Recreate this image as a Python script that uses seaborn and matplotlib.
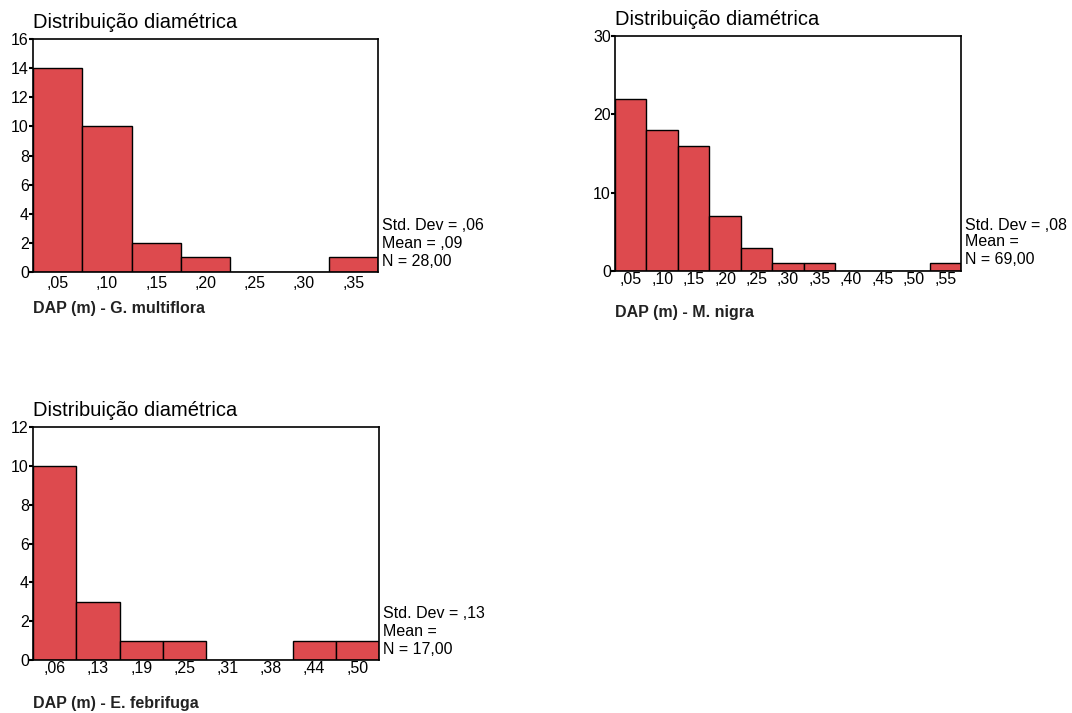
import numpy as np
import pandas as pd
import matplotlib
matplotlib.use("Agg")
import matplotlib.pyplot as plt
import seaborn as sns

# Dados (classes de DAP e frequências)
classes_g = [",05", ",10", ",15", ",20", ",25", ",30", ",35"]
freq_g = [14, 10, 2, 1, 0, 0, 1]
stats_g = ["Std. Dev = ,06", "Mean = ,09", "N = 28,00"]

classes_m = [",05", ",10", ",15", ",20", ",25", ",30", ",35", ",40", ",45", ",50", ",55"]
freq_m = [22, 18, 16, 7, 3, 1, 1, 0, 0, 0, 1]
stats_m = ["Std. Dev = ,08", "Mean =", "N = 69,00"]

classes_e = [",06", ",13", ",19", ",25", ",31", ",38", ",44", ",50"]
freq_e = [10, 3, 1, 1, 0, 0, 1, 1]
stats_e = ["Std. Dev = ,13", "Mean =", "N = 17,00"]

sns.set_style("white")
plt.rcParams['font.family'] = ['Liberation Sans', 'DejaVu Sans']
plt.rcParams['text.color'] = 'black'
plt.rcParams['xtick.color'] = 'black'
plt.rcParams['ytick.color'] = 'black'

W, H = 1072, 713
fig = plt.figure(figsize=(W / 100, H / 100), dpi=100)
COR = "#DD4A4E"


def painel(px, classes, freq, ymax, yticks, stats, xlabel, tick_pad, label_off):
    left, top, right, bottom = px
    ax = fig.add_axes([left / W, 1 - bottom / H, (right - left) / W, (bottom - top) / H])
    df = pd.DataFrame({"classe": classes, "freq": freq})
    sns.barplot(data=df, x="classe", y="freq", color=COR, width=1.0,
                edgecolor="black", linewidth=1.0, saturation=1, ax=ax)
    ax.set_xlim(-0.5, len(classes) - 0.5)
    ax.set_ylim(0, ymax)
    ax.set_yticks(yticks)
    ax.set_xlabel("")
    ax.set_ylabel("")
    for s in ax.spines.values():
        s.set_color("black")
        s.set_linewidth(1.2)
    ax.tick_params(axis="y", direction="out", length=3, width=1.5, pad=0,
                   labelsize=11.5, left=True)
    ax.tick_params(axis="x", length=0, pad=tick_pad, labelsize=11.5)
    # título
    ax.annotate("Distribuição diamétrica", xy=(0, 1), xycoords="axes fraction",
                xytext=(0, 5), textcoords="offset points", ha="left", va="bottom",
                fontsize=14.5)
    # rótulo do eixo x
    ax.annotate(xlabel, xy=(0, 0), xycoords="axes fraction",
                xytext=(0, -label_off), textcoords="offset points", ha="left",
                va="center", fontsize=11.5, fontweight="bold", color="#222222")
    # estatísticas
    offs = [46, 29, 11]
    for txt, o in zip(stats, offs):
        ax.annotate(txt, xy=(1, 0), xycoords="axes fraction",
                    xytext=(3, o * 0.72), textcoords="offset points",
                    ha="left", va="center", fontsize=11.5)
    return ax


painel((33, 39, 378, 272), classes_g, freq_g, 16, range(0, 17, 2), stats_g,
       "DAP (m) - G. multiflora", 3, 26)
painel((615, 36, 961, 271), classes_m, freq_m, 30, [0, 10, 20, 30], stats_m,
       "DAP (m) - M. nigra", 1, 30)
painel((33, 427, 379, 660), classes_e, freq_e, 12, range(0, 13, 2), stats_e,
       "DAP (m) - E. febrifuga", 1, 31)

fig.savefig("out.png", dpi=100, facecolor="white")
